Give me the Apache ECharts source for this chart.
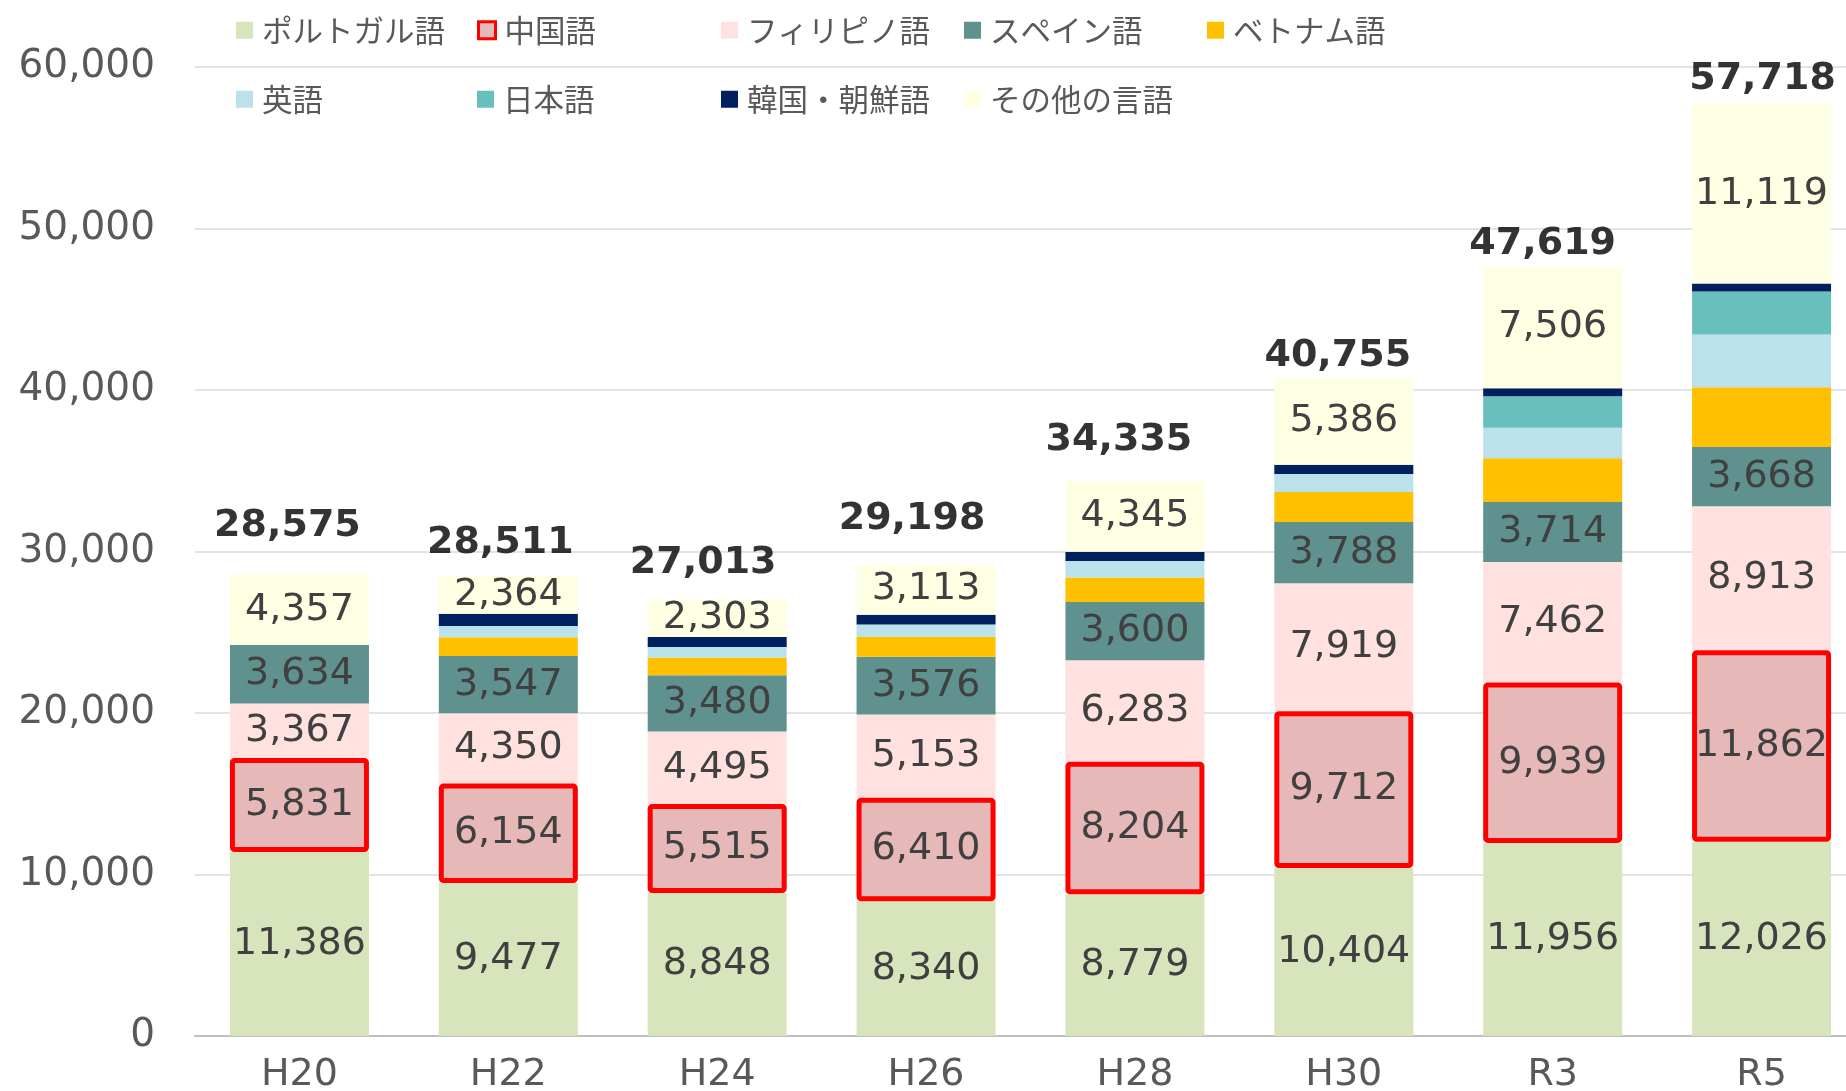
<!DOCTYPE html>
<html>
<head>
<meta charset="utf-8">
<script src="https://cdn.jsdelivr.net/npm/echarts@6/dist/echarts.min.js"></script>
<style>
  html, body { margin: 0; padding: 0; background: #fff; }
  #chart { width: 1846px; height: 1091px; }
</style>
</head>
<body>
<div id="chart"></div>
<script>
// 年度
const years = ['H20', 'H22', 'H24', 'H26', 'H28', 'H30', 'R3', 'R5'];

// 言語別の人数
const portuguese = [11386, 9477, 8848, 8340, 8779, 10404, 11956, 12026];
const chinese = [5831, 6154, 5515, 6410, 8204, 9712, 9939, 11862];
const filipino = [3367, 4350, 4495, 5153, 6283, 7919, 7462, 8913];
const spanish = [3634, 3547, 3480, 3576, 3600, 3788, 3714, 3668];
const vietnamese = [0, 1155, 1094, 1240, 1529, 1856, 2698, 3700];
const english = [0, 700, 660, 766, 1015, 1113, 1895, 3267];
const japanese = [0, 0, 0, 0, 0, 0, 1955, 2666];
const korean = [0, 764, 618, 600, 580, 577, 494, 497];
const others = [4357, 2364, 2303, 3113, 4345, 5386, 7506, 11119];
const totals = [28575, 28511, 27013, 29198, 34335, 40755, 47619, 57718];

const yTicks = [0, 10000, 20000, 30000, 40000, 50000, 60000];

// 合計ラベルのずれ (元の図のラベル位置に合わせる)
const totalLabelShift = [[-12, -11], [-8, 5], [-14, 1], [-14, -8], [-16, -4], [-6, 16], [-10, 15], [1, 13]];

const numFont = 'DejaVu Sans';
const jpFont = 'Noto Sans CJK JP';
const fmt = (v) => v.toLocaleString('en-US');

const myChart = echarts.init(document.getElementById('chart'));

function barSeries(name, data, color, showLabel, extra) {
  return Object.assign({
    name: name,
    type: 'bar',
    stack: 'total',
    data: data,
    barWidth: 139,
    itemStyle: { color: color },
    label: {
      show: showLabel,
      position: 'inside',
      color: '#404040',
      fontFamily: numFont,
      fontSize: 38,
      formatter: (p) => (p.value ? fmt(p.value) : ''),
    },
    emphasis: { disabled: true },
  }, extra || {});
}

// 凡例は列位置を揃えるため1項目ずつ置く
const legendPos = [
  ['ポルトガル語', 236, 15],
  ['中国語', 477, 15],
  ['フィリピノ語', 721, 15],
  ['スペイン語', 964, 15],
  ['ベトナム語', 1207, 15],
  ['英語', 236, 84],
  ['日本語', 477, 84],
  ['韓国・朝鮮語', 721, 84],
  ['その他の言語', 964, 84],
];

const legends = legendPos.map(([name, left, top]) => ({
  data: [name],
  left: left,
  top: top,
  icon: 'rect',
  itemWidth: 17,
  itemHeight: 17,
  itemGap: 0,
  padding: 0,
  selectedMode: false,
  itemStyle: name === '中国語' ? { borderWidth: 3, borderColor: '#FF0000' } : { borderWidth: 0 },
  textStyle: { fontFamily: jpFont, fontSize: 30.5, color: '#595959', padding: [0, 0, 0, 4] },
}));

const option = {
  animation: false,
  backgroundColor: '#ffffff',
  legend: legends,
  grid: { left: 195, width: 1671, top: 67, bottom: 55, containLabel: false, outerBoundsMode: 'none' },
  xAxis: {
    type: 'category',
    data: years,
    axisTick: { show: false },
    axisLine: { lineStyle: { color: '#BFBFBF', width: 2 } },
    axisLabel: { color: '#595959', fontFamily: numFont, fontSize: 38, margin: 20 },
  },
  yAxis: {
    type: 'value',
    min: yTicks[0],
    max: yTicks[yTicks.length - 1],
    interval: 10000,
    axisLine: { show: false },
    axisTick: { show: false },
    splitLine: { lineStyle: { color: '#E3E3E3', width: 2 } },
    axisLabel: {
      color: '#595959',
      fontFamily: numFont,
      fontSize: 39,
      margin: 40,
      formatter: (v) => fmt(v),
    },
  },
  series: [
    barSeries('ポルトガル語', portuguese, '#D8E4BC', true),
    barSeries('中国語', chinese, '#E6B8B7', true, {
      z: 3,
      itemStyle: { color: '#E6B8B7', borderColor: '#FF0000', borderWidth: 5, borderRadius: 2 },
    }),
    barSeries('フィリピノ語', filipino, '#FFE1DF', true),
    barSeries('スペイン語', spanish, '#5F918E', true),
    barSeries('ベトナム語', vietnamese, '#FFC000', false),
    barSeries('英語', english, '#BBE1EA', false),
    barSeries('日本語', japanese, '#67C0BE', false),
    barSeries('韓国・朝鮮語', korean, '#002060', false),
    barSeries('その他の言語', others, '#FFFFE4', true),
    {
      name: '合計',
      type: 'scatter',
      symbolSize: 1,
      itemStyle: { color: 'rgba(0,0,0,0)' },
      data: totals.map((v, i) => ({
        value: v,
        label: { offset: totalLabelShift[i] },
      })),
      label: {
        show: true,
        position: 'top',
        distance: 18,
        color: '#000000',
        fontFamily: numFont,
        fontWeight: 'bold',
        fontSize: 38,
        formatter: (p) => fmt(p.value),
      },
      z: 5,
    },
  ],
};

myChart.setOption(option);
window.addEventListener('resize', () => {
  myChart.resize();
});
</script>
</body>
</html>
